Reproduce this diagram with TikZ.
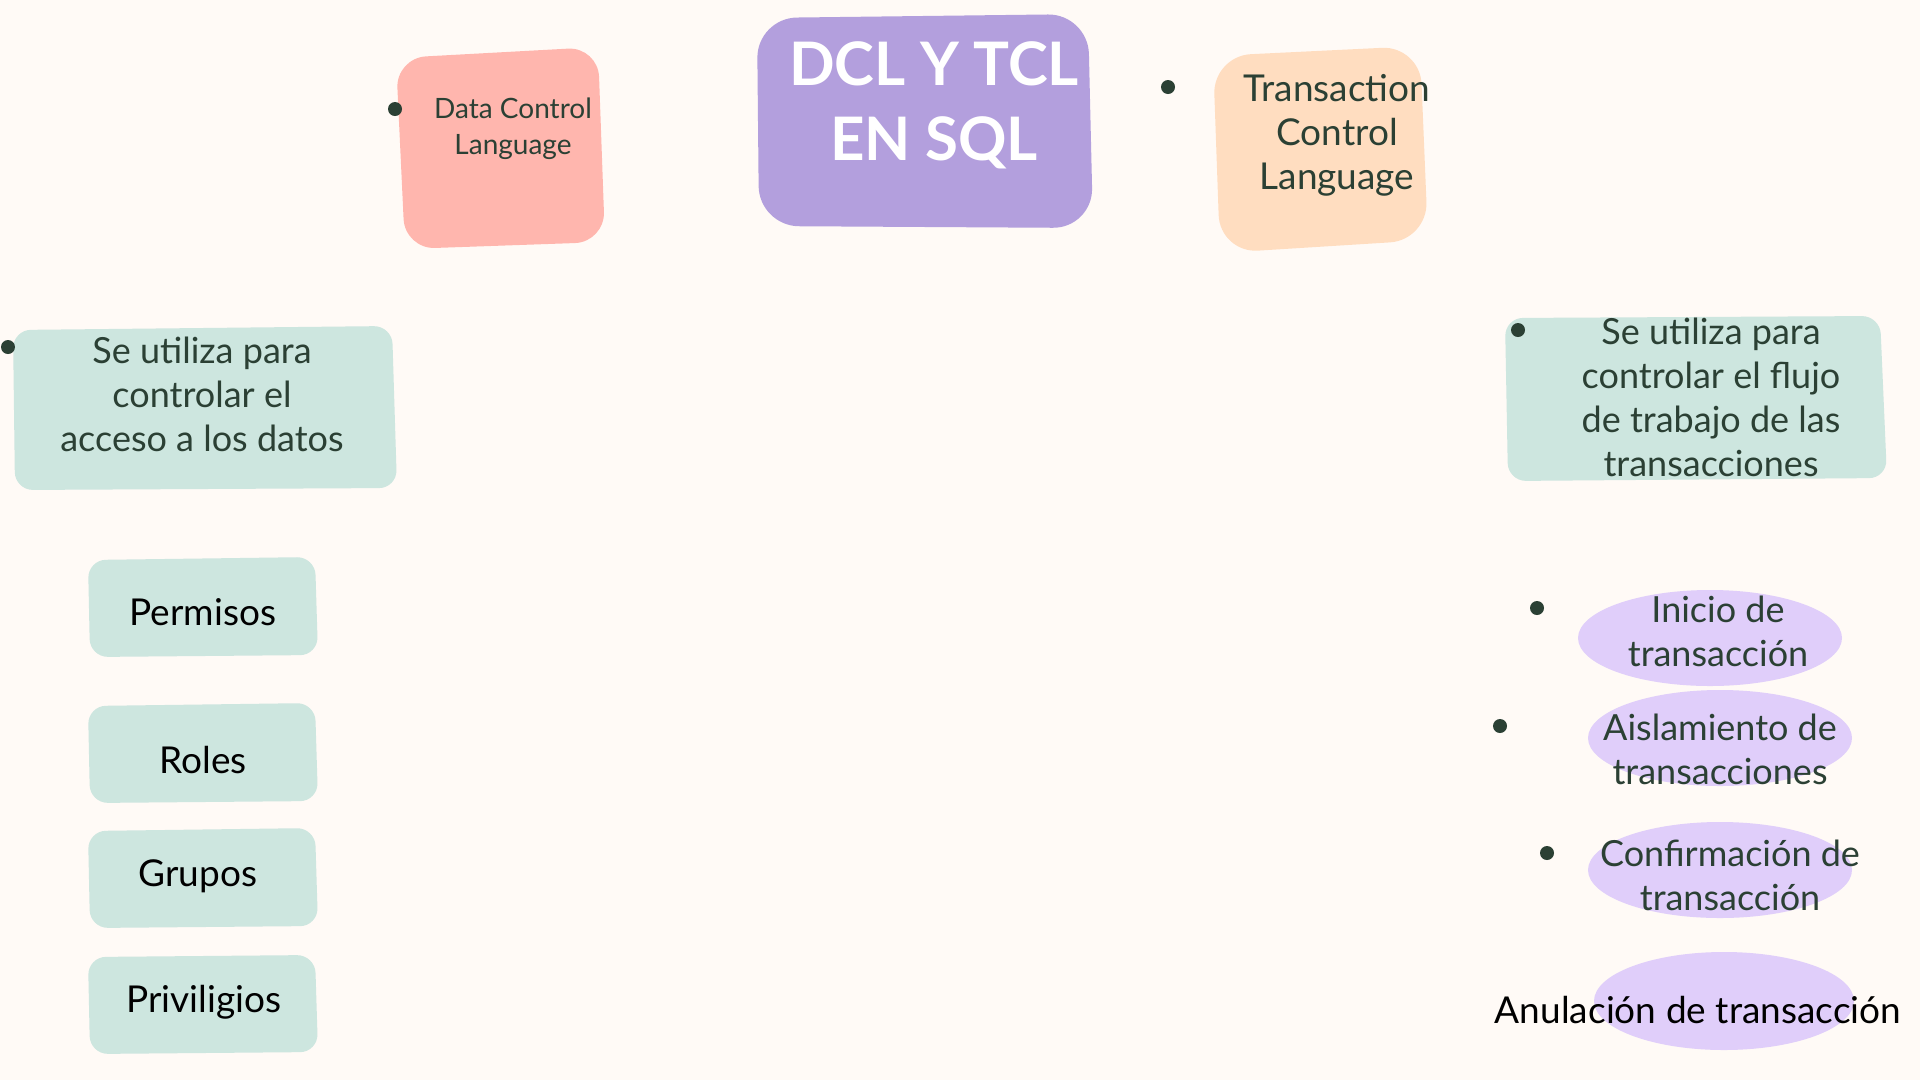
\documentclass[tikz,border=0pt]{standalone}
\usepackage{fontspec}
\setmainfont{Lato}
\definecolor{bgc}{HTML}{FFFAF6}
\definecolor{pinkc}{HTML}{FFB6AE}
\definecolor{purplec}{HTML}{B39FDD}
\definecolor{peachc}{HTML}{FFDDC0}
\definecolor{greenc}{HTML}{CDE6DF}
\definecolor{lavc}{HTML}{E0CEFA}
\definecolor{ink}{HTML}{2B4034}
\begin{document}
\begin{tikzpicture}[x=1pt,y=-1pt,
  txt/.style={text=ink, align=center, inner sep=0pt, font=\fontsize{36}{44}\selectfont},
  blk/.style={text=black, align=center, inner sep=0pt, font=\fontsize{37}{44}\selectfont},
  bullet/.style={circle, fill=ink, inner sep=0pt, minimum size=14pt},
  blob/.style={rounded corners=30pt},
  gbox/.style={fill=greenc, rounded corners=18pt}]
\fill[bgc] (0,0) rectangle (1920,1080);
\useasboundingbox (0,0) rectangle (1920,1080);

% top blobs
\fill[pinkc, blob] (396,58) -- (598,47) -- (605,242) -- (405,249) -- cycle;
\fill[purplec, rounded corners=40pt] (757,18) -- (1088,14) -- (1093,228) -- (759,226) -- cycle;
\fill[peachc, rounded corners=38pt] (1213,56) -- (1420,46) -- (1428,240) -- (1220,253) -- cycle;

\node[bullet] (b1) at (395,109) {};
\node[txt, font=\fontsize{28}{36}\selectfont] (dcl) at (513,129) {Data Control\\Language};
\node[text=white, align=center, inner sep=0pt, font=\bfseries\fontsize{60}{75}\selectfont] (title) at (934,105) {DCL Y TCL\\EN SQL};
\node[bullet] (b2) at (1168,87) {};
\node[txt, font=\fontsize{37}{44}\selectfont] (tcl) at (1337,135) {Transaction\\Control\\Language};

% green boxes
\fill[gbox] (13,330) -- (392,326) -- (397,488) -- (15,490) -- cycle;
\node[bullet] (b3) at (8,347) {};
\node[txt] (dcldesc) at (202,394) {Se utiliza para\\controlar el\\acceso a los datos};

\fill[gbox] (1505,318) -- (1880,316) -- (1887,478) -- (1508,481) -- cycle;
\node[bullet] (b4) at (1518,330) {};
\node[txt] (tcldesc) at (1711,397) {Se utiliza para\\controlar el flujo\\de trabajo de las\\transacciones};

% left list
\fill[gbox] (88,560) -- (315,557) -- (318,655) -- (90,657) -- cycle;
\fill[gbox] (88,706) -- (315,703) -- (318,801) -- (90,803) -- cycle;
\fill[gbox] (88,831) -- (315,828) -- (318,926) -- (90,928) -- cycle;
\fill[gbox] (88,957) -- (315,955) -- (318,1052) -- (90,1054) -- cycle;
\node[blk] (perm) at (203,612) {Permisos};
\node[blk] (roles) at (203,760) {Roles};
\node[blk] (grupos) at (198,876) {Grupos};
\node[blk] (priv) at (204,1002) {Priviligios};

% right list
\fill[lavc] (1710,638) ellipse [x radius=132, y radius=48];
\fill[lavc] (1720,738) ellipse [x radius=132, y radius=48];
\fill[lavc] (1720,870) ellipse [x radius=132, y radius=48];
\fill[lavc] (1724,1001) ellipse [x radius=130, y radius=49];
\node[bullet] (b5) at (1537,608) {};
\node[bullet] (b6) at (1500,726) {};
\node[bullet] (b7) at (1547,853) {};
\node[txt] (inicio) at (1718,631) {Inicio de\\transacción};
\node[txt] (aisl) at (1720,749) {Aislamiento de\\transacciones};
\node[txt] (conf) at (1730,875) {Confirmación de\\transacción};
\node[blk] (anul) at (1698,1010) {Anulación de transacción};
\end{tikzpicture}
\end{document}
